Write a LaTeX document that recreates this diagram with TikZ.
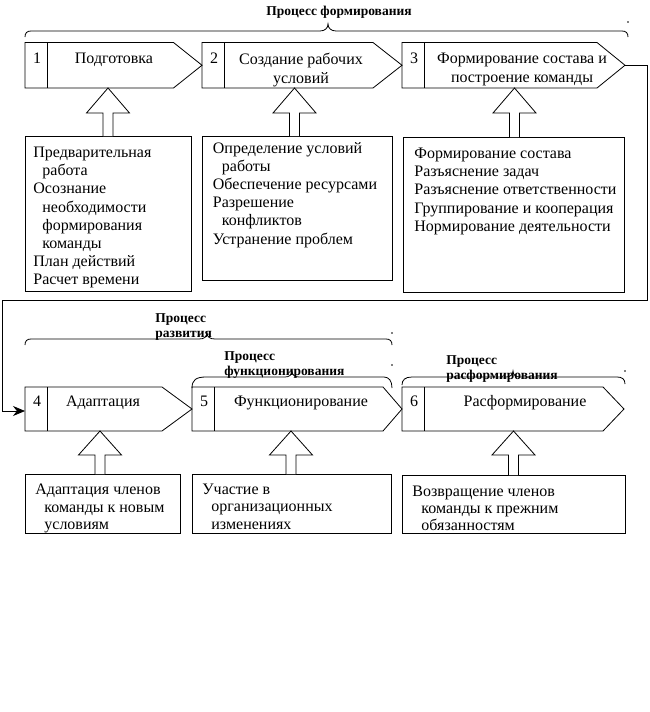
\documentclass[tikz,border=0pt]{standalone}
\usepackage{fontspec}
\setmainfont{Liberation Serif}
\usetikzlibrary{arrows.meta}
\tikzset{
  stagetxt/.style={font=\fontsize{16}{19}\selectfont, inner sep=0pt, align=center},
  numtxt/.style={font=\fontsize{16}{18.4}\selectfont, inner sep=0pt, anchor=base},
  listtxt/.style={font=\fontsize{16}{18.2}\selectfont, inner sep=0pt, anchor=north west, align=left},
  listtxtb/.style={font=\fontsize{16}{17.4}\selectfont, inner sep=0pt, anchor=north west, align=left},
  titletxt/.style={font=\bfseries\fontsize{13.5}{15}\selectfont, inner sep=0pt, align=left},
  conn/.style={-{Stealth[length=12pt,width=10pt]}},
}
\newcommand\hollowarrow[4]{%
  \draw[fill=white] ({#1-5},#4) -- ({#1-5},#3) -- ({#1-21.5},#3) -- (#1,#2) -- ({#1+21.5},#3) -- ({#1+5},#3) -- ({#1+5},#4);}
\newcommand\ind{\hspace*{9pt}}
\begin{document}
\begin{tikzpicture}[x=1pt,y=-1pt,line width=0.8pt]
\useasboundingbox[fill=white] (0,0) rectangle (650,712);

% ---- braces and titles ----
\draw (25,37) .. controls (25,33) and (27,31) .. (31,31) -- (320,31) .. controls (325,31) and (328,28) .. (328,24) .. controls (328,28) and (331,31) .. (336,31) -- (622,31) .. controls (626,31) and (628,33) .. (628,37);
\node[titletxt, anchor=base] (tt1) at (339,15.5) {Процесс формирования};
\fill (628,22) circle (0.8);

\draw (25,345) .. controls (25,341) and (27,339) .. (31,339) -- (199,339) .. controls (204,339) and (207,337) .. (207,333) .. controls (207,337) and (210,339) .. (215,339) -- (386,339) .. controls (390,339) and (392,341) .. (392,345);
\node[titletxt, anchor=north west] (tt2) at (155,312.8) {Процесс\\развития};
\fill (392,333) circle (0.8);

\draw (192,388) .. controls (192,380) and (196,377) .. (206,377) -- (285,377) .. controls (289,377) and (292,375) .. (292,371) .. controls (292,375) and (295,377) .. (299,377) -- (384,377) .. controls (389,377) and (392,381) .. (392,388);
\node[titletxt, anchor=north west] (tt3) at (224,350.8) {Процесс\\функционирования};
\fill (392,365) circle (0.8);

\draw (402,385) .. controls (402,380) and (405,377) .. (412,377) -- (506,377) .. controls (510,377) and (513,375) .. (513,371) .. controls (513,375) and (516,377) .. (520,377) -- (617,377) .. controls (622,377) and (625,379) .. (625,384);
\node[titletxt, anchor=north west] (tt4) at (446,354.8) {Процесс\\расформирования};
\fill (625,371) circle (0.8);

% ---- stage boxes row 1 ----
\draw (25,42.5) -- (173.5,42.5) -- (202,65.25) -- (173.5,88) -- (25,88) -- cycle;
\draw (47.5,42.5) -- (47.5,88);
\draw (202,42.5) -- (373,42.5) -- (402,65.25) -- (373,88) -- (202,88) -- cycle;
\draw (224,42.5) -- (224,88);
\draw (402,42.5) -- (597,42.5) -- (625,65.25) -- (597,88) -- (402,88) -- cycle;
\draw (424,42.5) -- (424,88);
\coordinate (s3tip) at (625,65.25);

\node[numtxt] (n1) at (37,63.3) {1};
\node[numtxt] (n2) at (214,63.3) {2};
\node[numtxt] (n3) at (414,63.3) {3};
\node[stagetxt, anchor=base] (l1) at (114,63.3) {Подготовка};
\node[stagetxt, anchor=north] (l2) at (301,52.7) {Создание рабочих\\условий};
\node[stagetxt, anchor=north] (l3) at (522,52.7) {Формирование состава и\\построение команды};

% ---- stage boxes row 2 ----
\draw (25,387) -- (162,387) -- (192,409) -- (162,431) -- (25,431) -- cycle;
\draw (47.5,387) -- (47.5,431);
\draw (192,387) -- (383,387) -- (402,409) -- (383,431) -- (192,431) -- cycle;
\draw (214,387) -- (214,431);
\draw (402,387) -- (603,387) -- (624,409) -- (603,431) -- (402,431) -- cycle;
\draw (424,387) -- (424,431);
\coordinate (s4in) at (25,411);

\node[numtxt] (n4) at (37,406) {4};
\node[numtxt] (n5) at (204,406) {5};
\node[numtxt] (n6) at (414,406) {6};
\node[stagetxt, anchor=base] (l4) at (103,406) {Адаптация};
\node[stagetxt, anchor=base] (l5) at (301,406) {Функционирование};
\node[stagetxt, anchor=base] (l6) at (525,406) {Расформирование};

% ---- connector ----
\draw[conn] (s3tip) -- (647,65.25) -- (647,300) -- (2,300) -- (2,411) -- (s4in);

% ---- text boxes row 1 ----
\draw (25,136) rectangle (191,291.5);
\draw (202,136) rectangle (392,280);
\draw (403,137) rectangle (624.5,292);
\node[listtxt] (d1) at (33,146.7) {Предварительная\\\ind работа\\Осознание\\\ind необходимости\\\ind формирования\\\ind команды\\План действий\\Расчет времени};
\node[listtxt] (d2) at (212.5,141.7) {Определение условий\\\ind работы\\Обеспечение ресурсами\\Разрешение\\\ind конфликтов\\Устранение проблем};
\node[listtxt] (d3) at (414,147.7) {Формирование состава\\Разъяснение задач\\Разъяснение ответственности\\Группирование и кооперация\\Нормирование деятельности};

% ---- text boxes row 2 ----
\draw (25,474) rectangle (180.5,533);
\draw (192,474) rectangle (391.5,533);
\draw (402,475) rectangle (625,533);
\node[listtxtb] (d4) at (35,483.7) {Адаптация членов\\\ind команды к новым\\\ind условиям};
\node[listtxtb] (d5) at (202,483.7) {Участие в\\\ind организационных\\\ind изменениях};
\node[listtxtb] (d6) at (412,485.2) {Возвращение членов\\\ind команды к прежним\\\ind обязанностям};

% ---- hollow arrows ----
\hollowarrow{108}{88}{113}{136}
\hollowarrow{294.5}{88}{113}{136}
\hollowarrow{514.5}{88}{113}{137}
\hollowarrow{100}{431}{455}{474}
\hollowarrow{291}{431}{455}{474}
\hollowarrow{513.5}{431}{455}{475}
\end{tikzpicture}
\end{document}
